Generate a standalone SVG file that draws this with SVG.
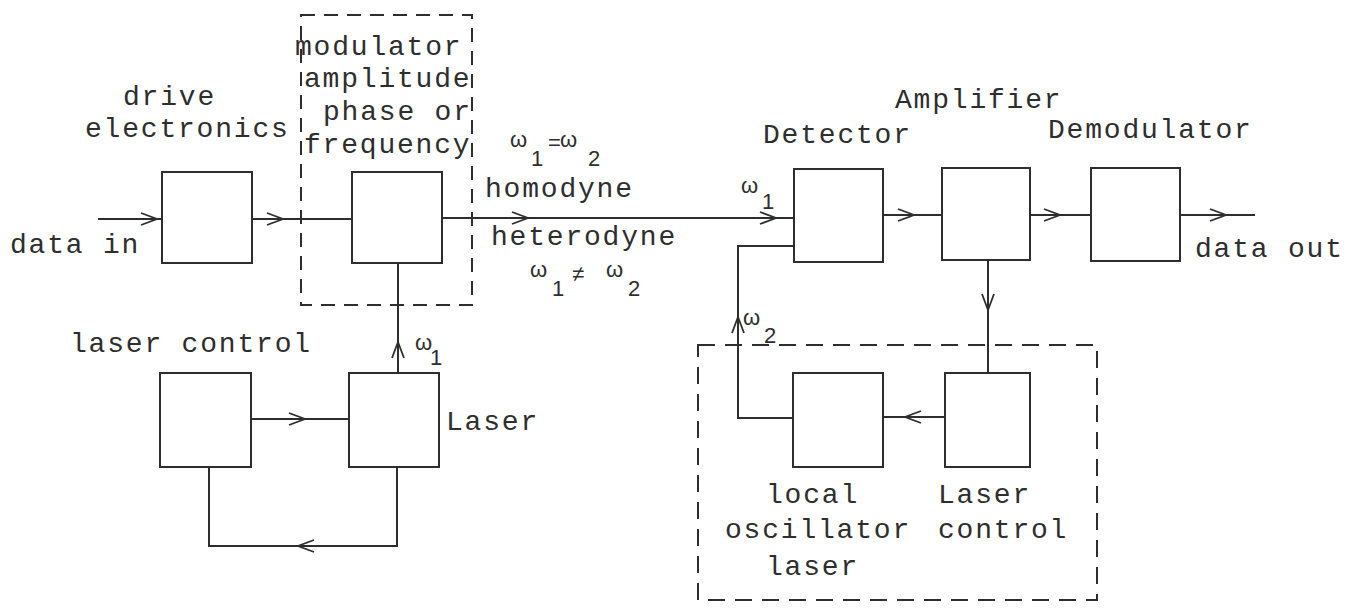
<svg xmlns="http://www.w3.org/2000/svg" xmlns:xlink="http://www.w3.org/1999/xlink" width="1347" height="608" viewBox="0 0 1347 608">
<style>
.box{fill:none;stroke:#2e2e2e;stroke-width:2}
.ln{fill:none;stroke:#2e2e2e;stroke-width:2}
.dash{fill:none;stroke:#2e2e2e;stroke-width:2;stroke-dasharray:14 9}
.dash2{fill:none;stroke:#2e2e2e;stroke-width:2;stroke-dasharray:17 10}
.t{font-family:"Liberation Mono","DejaVu Sans Mono",monospace;font-size:28px;letter-spacing:1.8px;fill:#2e2e2e}
.w{font-family:"Liberation Sans","DejaVu Sans",sans-serif;font-size:22px;fill:#2e2e2e}
</style>
<defs>
<path id="chev" d="M-16,-6 L0,0 L-16,6" fill="none" stroke="#2e2e2e" stroke-width="1.8"/>
</defs>
<rect width="1347" height="608" fill="#ffffff"/>

<g id="modulator-group">
<rect class="dash" x="301" y="15" width="171" height="290"/>
<text class="t" x="295" y="55">modulator</text>
<text class="t" x="304" y="87">amplitude</text>
<text class="t" x="323" y="120">phase or</text>
<text class="t" x="304" y="153">frequency</text>
</g>

<g id="lo-group">
<rect class="dash2" x="698" y="345" width="399" height="255"/>
</g>

<g id="drive">
<rect class="box" x="162" y="172" width="90" height="91"/>
<text class="t" x="123" y="105">drive</text>
<text class="t" x="85" y="137">electronics</text>
</g>

<g id="modulator">
<rect class="box" x="352" y="172" width="90" height="91"/>
</g>

<g id="laser-control-left">
<rect class="box" x="160" y="373" width="91" height="94"/>
<text class="t" x="70" y="352">laser control</text>
</g>

<g id="laser">
<rect class="box" x="349" y="373" width="90" height="94"/>
<text class="t" x="446" y="430">Laser</text>
</g>

<g id="detector">
<rect class="box" x="794" y="169" width="89" height="93"/>
<text class="t" x="763" y="143">Detector</text>
</g>

<g id="amplifier">
<rect class="box" x="942" y="168" width="88" height="92"/>
<text class="t" x="895" y="108">Amplifier</text>
</g>

<g id="demodulator">
<rect class="box" x="1091" y="168" width="89" height="93"/>
<text class="t" x="1048" y="138">Demodulator</text>
</g>

<g id="local-oscillator">
<rect class="box" x="793" y="373" width="90" height="94"/>
<text class="t" x="766" y="503">local</text>
<text class="t" x="725" y="538">oscillator</text>
<text class="t" x="766" y="575">laser</text>
</g>

<g id="laser-control-right">
<rect class="box" x="945" y="373" width="85" height="94"/>
<text class="t" x="938" y="503">Laser</text>
<text class="t" x="938" y="538">control</text>
</g>

<g id="labels">
<text class="t" x="10" y="253">data in</text>
<text class="t" x="1195" y="257">data out</text>
<text class="t" x="485" y="197">homodyne</text>
<text class="t" x="491" y="245">heterodyne</text>
<text class="w"><tspan x="510" y="147">ω</tspan><tspan x="531" y="166">1</tspan><tspan x="548" y="150">=</tspan><tspan x="560" y="147">ω</tspan><tspan x="588" y="166">2</tspan></text>
<text class="w"><tspan x="530" y="277">ω</tspan><tspan x="552" y="296">1</tspan><tspan x="572" y="281">≠</tspan><tspan x="606" y="277">ω</tspan><tspan x="628" y="296">2</tspan></text>
<text class="w"><tspan x="741" y="193">ω</tspan><tspan x="762" y="209">1</tspan></text>
<text class="w"><tspan x="415" y="350">ω</tspan><tspan x="430" y="365">1</tspan></text>
<text class="w"><tspan x="743" y="325">ω</tspan><tspan x="764" y="343">2</tspan></text>
</g>

<g id="connectors">
<path class="ln" d="M98,219 H162"/>
<path class="ln" d="M252,219 H352"/>
<path class="ln" d="M442,218 H794"/>
<path class="ln" d="M883,215 H942"/>
<path class="ln" d="M1030,215 H1091"/>
<path class="ln" d="M1180,215 H1255"/>
<path class="ln" d="M251,419 H349"/>
<path class="ln" d="M398,373 V263"/>
<path class="ln" d="M397,467 V546 H209 V467"/>
<path class="ln" d="M988,260 V373"/>
<path class="ln" d="M945,417 H883"/>
<path class="ln" d="M793,418 H738 V246 H794"/>
<use xlink:href="#chev" transform="translate(157,219)"/>
<use xlink:href="#chev" transform="translate(283,219)"/>
<use xlink:href="#chev" transform="translate(528,218)"/>
<use xlink:href="#chev" transform="translate(776,218)"/>
<use xlink:href="#chev" transform="translate(914,215)"/>
<use xlink:href="#chev" transform="translate(1060,215)"/>
<use xlink:href="#chev" transform="translate(1226,215)"/>
<use xlink:href="#chev" transform="translate(305,419)"/>
<use xlink:href="#chev" transform="translate(298,546) rotate(180)"/>
<use xlink:href="#chev" transform="translate(905,417) rotate(180)"/>
<use xlink:href="#chev" transform="translate(398,342) rotate(-90)"/>
<use xlink:href="#chev" transform="translate(738,317) rotate(-90)"/>
<use xlink:href="#chev" transform="translate(988,310) rotate(90)"/>
</g>
</svg>
